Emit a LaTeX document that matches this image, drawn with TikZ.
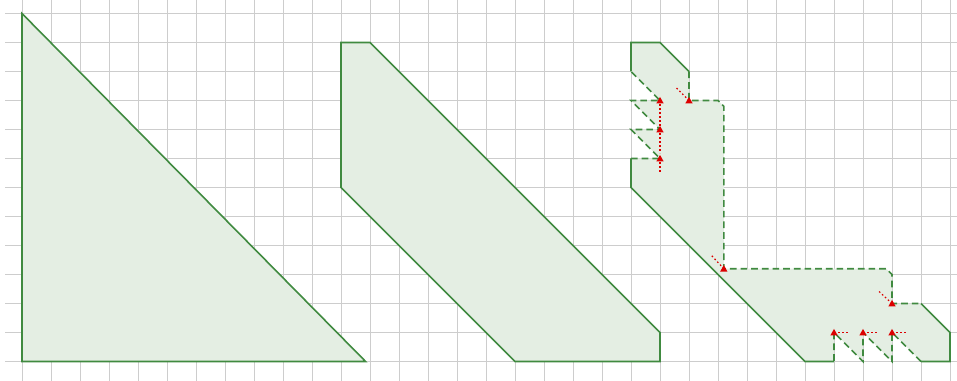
\documentclass[tikz,border=0pt]{standalone}
\usepackage{tikz}

% red tip with its dotted tail
\newcommand{\cutmark}[2]{%
  \draw [pointer] #1 -- ++#2 ;
  \fill [tipmark] #1 ++(0,-3.6) -- ++(3.6,6.4) -- ++(-7.2,0) -- cycle ;
}

\begin{document}
\begin{tikzpicture}[x=0.75pt,y=0.75pt,yscale=-1,xscale=1,
  gridline/.style={draw={rgb, 255:red, 205; green, 205; blue, 205 }, line width=0.75},
  partfill/.style={fill={rgb, 255:red, 228; green, 238; blue, 227 }},
  edgeline/.style={draw={rgb, 255:red, 64; green, 138; blue, 64 }, line width=1.2},
  cutline/.style={edgeline, dash pattern={on 5pt off 3pt}},
  pointer/.style={draw={rgb, 255:red, 220; green, 0; blue, 0 }, line width=0.9, dash pattern={on 1.2pt off 1.8pt}},
  tipmark/.style={fill={rgb, 255:red, 220; green, 0; blue, 0 }}]
    \useasboundingbox (0,0) rectangle (957,381);

    %Grid
    \foreach \y in {13.5,42.5,...,362} {\draw [gridline] (5,\y) -- (957,\y) ;}
    \foreach \x in {22,51,...,951} {\draw [gridline] (\x,0) -- (\x,381) ;}

    %Shape [id:triangle]
    \draw [partfill, edgeline] (22,361.5) -- (22,13.5) -- (365.6,361.5) -- cycle ;

    %Shape [id:offset]
    \draw [partfill, edgeline] (341,42.5) -- (370,42.5) -- (660,332.5) -- (660,361.5) -- (515,361.5) -- (341,187.5) -- cycle ;

    %Shape [id:cut] fill
    \fill [partfill] (631,42.5) -- (660,42.5) -- (689,71.5) -- (689,100.5) -- (718,100.5) -- (723.8,106.3) -- (723.8,268.7) -- (886.2,268.7) -- (892,274.5) -- (892,303.5) -- (921,303.5) -- (950,332.5) -- (950,361.5) -- (921,361.5) -- (892,332.5) -- (892,361.5) -- (863,332.5) -- (863,361.5) -- (834,332.5) -- (834,361.5) -- (805,361.5) -- (631,187.5) -- (631,158.5) -- (660,158.5) -- (631,129.5) -- (660,129.5) -- (631,100.5) -- (660,100.5) -- (631,71.5) -- cycle ;
    %Straight Lines
    \draw [edgeline] (631,71.5) -- (631,42.5) -- (660,42.5) -- (689,71.5) ;
    \draw [edgeline] (921,303.5) -- (950,332.5) -- (950,361.5) -- (921,361.5) ;
    \draw [edgeline] (834,361.5) -- (805,361.5) -- (631,187.5) -- (631,158.5) ;
    %Dashed Lines
    \draw [cutline] (689,71.5) -- (689,100.5) -- (718,100.5) -- (723.8,106.3) -- (723.8,268.7) -- (886.2,268.7) -- (892,274.5) -- (892,303.5) -- (921,303.5) ;
    \draw [cutline] (921,361.5) -- (892,332.5) -- (892,361.5) -- (863,332.5) -- (863,361.5) -- (834,332.5) -- (834,361.5) ;
    \draw [cutline] (631,158.5) -- (660,158.5) -- (631,129.5) -- (660,129.5) -- (631,100.5) -- (660,100.5) -- (631,71.5) ;

    %Marks
    \cutmark{(660,100.5)}{(0,26)}
    \cutmark{(660,129.5)}{(0,24)}
    \cutmark{(660,158.5)}{(0,15)}
    \cutmark{(689,100.5)}{(-13,-13)}
    \cutmark{(723.8,268.7)}{(-13,-14)}
    \cutmark{(892,303.5)}{(-14,-13)}
    \cutmark{(834,332.5)}{(14,0)}
    \cutmark{(863,332.5)}{(14,0)}
    \cutmark{(892,332.5)}{(14,0)}

\end{tikzpicture}
\end{document}
